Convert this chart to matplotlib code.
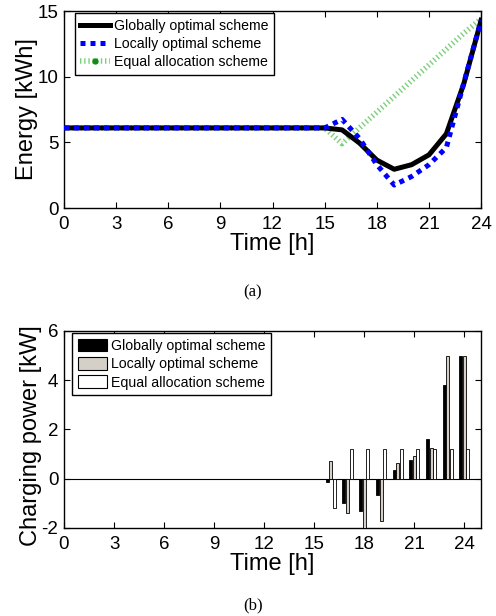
"""Energy and charging power under three scheduling schemes."""

import matplotlib

matplotlib.use("Agg")

import matplotlib.pyplot as plt
import numpy as np
from matplotlib.lines import Line2D
from matplotlib.patches import Patch

plt.rcParams["font.family"] = ["Liberation Sans", "DejaVu Sans"]
plt.rcParams["axes.unicode_minus"] = False

# --- data -------------------------------------------------------------
hours = list(range(25))
energy_global = [6.1] * 16 + [5.95, 4.95, 3.65, 2.95, 3.3, 4.05, 5.65, 9.45, 14.3]
energy_local = [6.1] * 16 + [6.75, 5.3, 3.3, 1.75, 2.4, 3.3, 4.6, 9.5, 14.3]
energy_equal = [6.1] * 16 + [4.9, 6.1, 7.3, 8.5, 9.7, 10.9, 12.1, 13.3, 14.4]

bar_hours = [16, 17, 18, 19, 20, 21, 22, 23, 24]
power_global = [-0.13, -1.0, -1.3, -0.68, 0.34, 0.78, 1.6, 3.8, 5.0]
power_local = [0.73, -1.4, -2.0, -1.7, 0.63, 0.92, 1.26, 4.97, 5.0]
power_equal = [-1.2, 1.2, 1.2, 1.2, 1.2, 1.2, 1.2, 1.2, 1.2]

scheme_labels = [
    "Globally optimal scheme",
    "Locally optimal scheme",
    "Equal allocation scheme",
]
time_ticks = list(range(0, 25, 3))

GREEN = "#7ccf7c"
GRAY = "#d4d0c8"
TICK_SIZE = 13.5
LABEL_SIZE = 17
LEGEND_SIZE = 10.2


def _style_axis(axis):
    axis.tick_params(
        direction="in", top=True, right=True, length=4, width=0.8,
        labelsize=TICK_SIZE,
    )
    axis.tick_params(axis="x", pad=5.5)
    axis.tick_params(axis="y", pad=4)
    for spine in axis.spines.values():
        spine.set_linewidth(1.0)


def _legend(axis, handles, anchor, **extra):
    leg = axis.legend(
        handles, scheme_labels, loc="upper left", bbox_to_anchor=anchor,
        borderaxespad=0, fontsize=LEGEND_SIZE, frameon=True, fancybox=False,
        framealpha=1, edgecolor="black", handlelength=2.1,
        handletextpad=0.28, labelspacing=0.3, borderpad=0.4, **extra,
    )
    leg.get_frame().set_linewidth(1.0)
    return leg


fig = plt.figure(figsize=(4.96, 6.16), dpi=100)

# --- (a) energy -------------------------------------------------------
ax_top = fig.add_axes([0.129, 0.6623, 0.841, 0.3198])
ax_top.plot(hours, energy_equal, color=GREEN, linewidth=4.0,
            linestyle=(0, (0.25, 0.5)), dash_capstyle="butt", zorder=2)
ax_top.plot(hours, energy_global, color="black", linewidth=3.6, zorder=3)
ax_top.plot(hours, energy_local, color="#0000ff", linewidth=3.6,
            linestyle=(0, (1, 1)), dash_capstyle="butt", zorder=4)
ax_top.set_xlim(0, 24)
ax_top.set_ylim(0, 15)
ax_top.set_xticks(time_ticks)
ax_top.set_yticks([0, 5, 10, 15])
ax_top.set_xlabel("Time [h]", fontsize=LABEL_SIZE, labelpad=0)
ax_top.set_ylabel("Energy [kWh]", fontsize=LABEL_SIZE, labelpad=0)
_style_axis(ax_top)

top_handles = [
    Line2D([], [], color="black", linewidth=3.6),
    Line2D([], [], color="#0000ff", linewidth=3.6,
           linestyle=(0, (1, 1)), dash_capstyle="butt"),
    Line2D([], [], color=GREEN, linewidth=4.0, linestyle=(0, (0.25, 0.5)),
           dash_capstyle="butt", marker="o", markersize=3.5,
           markerfacecolor="#138a13", markeredgecolor="#138a13"),
]
_legend(ax_top, top_handles, (0.026, 0.99))

fig.text(0.51, 0.525, "(a)", ha="center", va="center", fontsize=12,
         family=["Liberation Serif", "DejaVu Serif"])

# --- (b) charging power -----------------------------------------------
ax_bot = fig.add_axes([0.129, 0.1429, 0.841, 0.3198])
positions = np.array(bar_hours, dtype=float)
bar_width = 0.18
ax_bot.bar(positions - 0.22, power_global, width=bar_width, color="black",
           edgecolor="black", linewidth=0.6, zorder=3)
ax_bot.bar(positions, power_local, width=bar_width, color=GRAY,
           edgecolor="black", linewidth=0.6, zorder=3)
ax_bot.bar(positions + 0.21, power_equal, width=bar_width, color="white",
           edgecolor="black", linewidth=0.6, zorder=3)
ax_bot.axhline(0, color="black", linewidth=0.8, zorder=2)
ax_bot.set_xlim(0, 25)
ax_bot.set_ylim(-2, 6)
ax_bot.set_xticks(time_ticks)
ax_bot.set_yticks([-2, 0, 2, 4, 6])
ax_bot.set_xlabel("Time [h]", fontsize=LABEL_SIZE, labelpad=0)
ax_bot.set_ylabel("Charging power [kW]", fontsize=LABEL_SIZE, labelpad=0)
ax_bot.yaxis.label.set_y(0.47)
_style_axis(ax_bot)

bot_handles = [
    Patch(facecolor="black", edgecolor="black", linewidth=0.8),
    Patch(facecolor=GRAY, edgecolor="black", linewidth=0.8),
    Patch(facecolor="white", edgecolor="black", linewidth=0.8),
]
_legend(ax_bot, bot_handles, (0.019, 0.99), handleheight=1.0)

fig.text(0.51, 0.018, "(b)", ha="center", va="center", fontsize=12,
         family=["Liberation Serif", "DejaVu Serif"])

fig.savefig("out.png", dpi=100)
plt.close(fig)
